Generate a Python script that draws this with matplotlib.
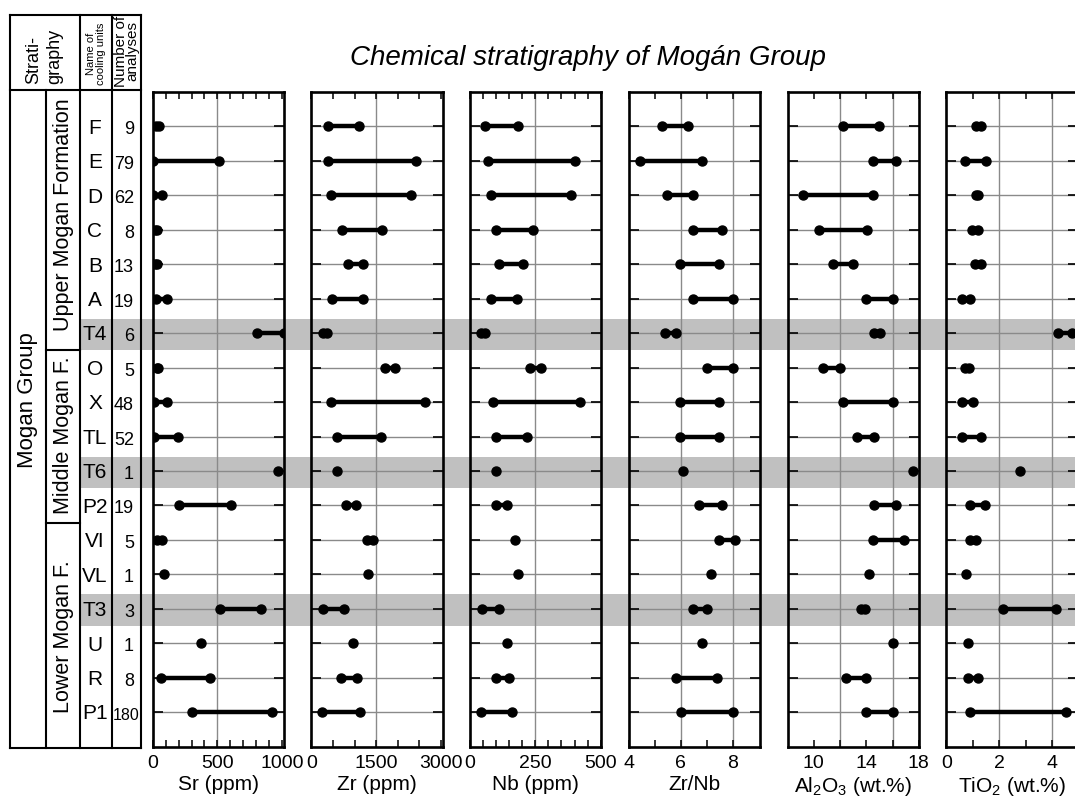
import matplotlib
matplotlib.use("Agg")
import matplotlib.pyplot as plt
import matplotlib.transforms as mtransforms
from matplotlib.patches import Rectangle

plt.rcParams["font.family"] = ["Liberation Sans", "DejaVu Sans"]
plt.rcParams["mathtext.fontset"] = "custom"
plt.rcParams["mathtext.rm"] = "Liberation Sans"
plt.rcParams["mathtext.it"] = "Liberation Sans:italic"

# cooling units, top to bottom
units = ["F", "E", "D", "C", "B", "A", "T4", "O", "X", "TL",
         "T6", "P2", "VI", "VL", "T3", "U", "R", "P1"]
n_analyses = [9, 79, 62, 8, 13, 19, 6, 5, 48, 52, 1, 19, 5, 1, 3, 1, 8, 180]
shaded = ["T4", "T6", "T3"]

# (min, max) per unit
sr = [(25, 50), (0, 510), (0, 75), (15, 35), (15, 35), (26, 108), (809, 1015),
      (30, 40), (10, 108), (10, 198), (970, 970), (204, 608), (36, 75),
      (85, 85), (520, 835), (371, 371), (62, 443), (307, 920)]
zr = [(394, 1098), (380, 2420), (456, 2312), (704, 1640), (851, 1206),
      (487, 1206), (270, 350), (1701, 1926), (456, 2637), (595, 1601),
      (603, 603), (804, 1036), (1276, 1415), (1307, 1307), (271, 750),
      (959, 959), (696, 1067), (240, 1114)]
nb = [(57, 183), (70, 402), (81, 385), (99, 242), (111, 201), (81, 178),
      (42, 56), (229, 272), (86, 420), (99, 219), (100, 100), (98, 142),
      (171, 171), (182, 182), (44, 112), (142, 142), (98, 148), (40, 160)]
zrnb = [(5.27, 6.29), (4.44, 6.82), (5.45, 6.47), (6.46, 7.60), (5.97, 7.46),
        (6.46, 8.0), (5.38, 5.82), (7.0, 8.0), (5.97, 7.46), (5.97, 7.46),
        (6.10, 6.10), (6.69, 7.60), (7.46, 8.10), (7.17, 7.17), (6.45, 7.0),
        (6.81, 6.81), (5.81, 7.41), (5.99, 8.0)]
al2o3 = [(12.2, 14.94), (14.48, 16.23), (9.19, 14.53), (10.38, 14.03),
         (11.49, 12.96), (13.97, 16.0), (14.56, 15.06), (10.71, 12.03),
         (12.2, 16.0), (13.29, 14.58), (17.59, 17.59), (14.56, 16.23),
         (14.48, 16.91), (14.2, 14.2), (13.6, 13.9), (16.0, 16.0),
         (12.46, 14.0), (13.97, 16.0)]
tio2 = [(1.11, 1.30), (0.71, 1.49), (1.11, 1.21), (0.99, 1.2), (1.1, 1.3),
        (0.58, 0.89), (4.21, 4.74), (0.69, 0.85), (0.59, 1.0), (0.59, 1.30),
        (2.78, 2.78), (0.89, 1.48), (0.89, 1.14), (0.73, 0.73), (2.16, 4.13),
        (0.84, 0.84), (0.84, 1.19), (0.89, 4.5)]

PANELS = [
    (sr, "Sr (ppm)", (0, 1015), [0, 500, 1000], range(0, 1001, 100), [500]),
    (zr, "Zr (ppm)", (0, 3040), [0, 1500, 3000], range(0, 3001, 500), [1500]),
    (nb, "Nb (ppm)", (0, 503), [0, 250, 500], range(0, 501, 50), [250]),
    (zrnb, "Zr/Nb", (4, 9.05), [4, 6, 8], [5, 6, 7, 8], [6, 8]),
    (al2o3, "Al$_2$O$_3$ (wt.%)", (8, 18), [10, 14, 18], [10, 12, 14, 16], [12, 16]),
    (tio2, "TiO$_2$ (wt.%)", (0, 4.95), [0, 2, 4], [1, 2, 3, 4], [2, 4]),
]

W, H = 1075, 799
GRID = "#8a8a8a"
BAND = "#c0c0c0"

fig = plt.figure(figsize=(W / 100, H / 100), dpi=100)

# background axes in pixel coordinates: table, bands
bg = fig.add_axes([0, 0, 1, 1], zorder=0)
bg.set_xlim(0, W)
bg.set_ylim(H, 0)
bg.axis("off")

p_top, p_bot, p_w = 92, 746.7, 131.3
axes = []
for k, (vals, label, xlim, xt, xminor, vgrid) in enumerate(PANELS):
    left = 152.7 + k * 158.7
    ax = fig.add_axes([left / W, 1 - p_bot / H, p_w / W, (p_bot - p_top) / H], zorder=1)
    ax.set_facecolor("none")
    ax.set_xlim(*xlim)
    ax.set_ylim(18, -1)
    ax.set_axisbelow(True)
    ax.set_yticks(range(len(units)))
    ax.grid(axis="y", color=GRID, lw=1)
    for v in vgrid:
        ax.axvline(v, color=GRID, lw=1, zorder=0.5)
    for i, (lo, hi) in enumerate(vals):
        if lo == hi:
            ax.plot([lo], [i], "o", color="k", ms=6.5, zorder=3)
        else:
            ax.plot([lo, hi], [i, i], "-o", color="k", lw=3.2, ms=6.5, zorder=3)
    ax.set_xticks(xt)
    ax.set_xticks(list(xminor), minor=True)
    ax.tick_params(axis="x", which="both", direction="in", top=True, bottom=True,
                   length=5, width=1.1, labelsize=14, pad=6)
    ax.tick_params(axis="y", direction="in", left=True, right=True, length=7,
                   width=1.2, labelleft=False)
    ax.set_xlabel(label, fontsize=15, labelpad=2)
    for s in ax.spines.values():
        s.set_linewidth(1.9)
    axes.append(ax)

# table rows follow the panel row positions
blend = mtransforms.blended_transform_factory(bg.transData, axes[0].transData)

for i, u in enumerate(units):
    if u in shaded:
        bg.add_patch(Rectangle((80, i - 0.42), W - 80, 0.92, transform=blend,
                               facecolor=BAND, edgecolor="none", zorder=0,
                               clip_on=False))
    bg.text(95, i + 0.05, u, transform=blend, ha="center", va="center", fontsize=15)
    n = str(n_analyses[i])
    if len(n) > 2:
        bg.text(139, i + 0.1, n, transform=blend, ha="right", va="center", fontsize=11.5)
    else:
        bg.text(134, i + 0.1, n, transform=blend, ha="right", va="center", fontsize=13)

lk = dict(color="k", lw=1.5, solid_capstyle="projecting")
tab_top, hdr_bot, tab_bot = 15, 90, 748
for x in (10, 80, 112, 141):
    bg.plot([x, x], [tab_top, tab_bot], **lk)
bg.plot([46, 46], [hdr_bot, tab_bot], **lk)
bg.plot([10, 141], [tab_top, tab_top], **lk)
bg.plot([10, 141], [hdr_bot, hdr_bot], **lk)
bg.plot([10, 141], [tab_bot, tab_bot], **lk)
bg.plot([46, 80], [6.5, 6.5], transform=blend, **lk)
bg.plot([46, 80], [11.5, 11.5], transform=blend, **lk)

bg.text(44, 84, "Strati-\ngraphy", rotation=90, ha="center", va="bottom",
        multialignment="left", fontsize=13, linespacing=1.35)
bg.text(96, 54, "Name of\ncooling units", rotation=90, ha="center", va="center",
        fontsize=8, linespacing=0.95)
bg.text(126.5, 51, "Number of\nanalyses", rotation=90, ha="center", va="center",
        fontsize=11, linespacing=0.8)
bg.text(28, 400, "Mogan Group", rotation=90, ha="center", va="center", fontsize=16)

form_text = ["Upper Mogan Formation", "Middle Mogan F.", "Lower Mogan F."]
form_mid = [2.55, 8.95, 14.8]
for name, ym in zip(form_text, form_mid):
    bg.text(63, ym, name, transform=blend, rotation=90, ha="center",
            va="center", fontsize=15.5)

bg.text(588, 58, "Chemical stratigraphy of Mogán Group", ha="center", va="center",
        fontsize=20, style="italic")

fig.savefig("out.png", dpi=100)
